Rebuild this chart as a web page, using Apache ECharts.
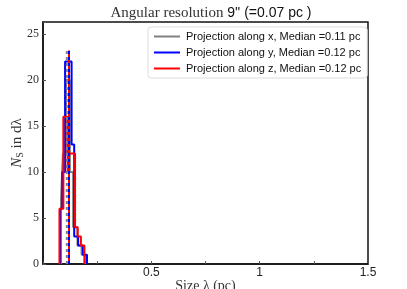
<!DOCTYPE html>
<html><head><meta charset="utf-8">
<script src="https://cdn.jsdelivr.net/npm/echarts@6/dist/echarts.min.js"></script>
<style>html,body{margin:0;padding:0;background:#fff}#c{width:407px;height:289px}</style>
</head><body><div id="c"></div>
<script>
// Histogram bin edges (pc) and counts per projection
const xEdges = [0.083, 0.092, 0.106, 0.124, 0.139, 0.159, 0.178, 0.194];
const xCounts = [7, 12, 20, 10, 4, 2, 1];
const yEdges = [0.079, 0.089, 0.102, 0.132, 0.144, 0.162, 0.184, 0.203];
const yCounts = [6, 10, 22, 13, 3, 2, 1];
const zEdges = [0.076, 0.094, 0.114, 0.121, 0.148, 0.160, 0.175, 0.191];
const zCounts = [6, 16, 10, 12, 4, 3, 2];
const medians = [0.11, 0.12, 0.12];
const medianLineTop = 23.2;
const names = ['Projection along x, Median =0.11 pc','Projection along y, Median =0.12 pc','Projection along z, Median =0.12 pc'];
const colors = ['#808080','#0000ff','#ff0000'];
const xTickLabels = [0.5, 1, 1.5];

function stepData(edges, counts){
  const d = [[edges[0], 0]];
  for (let i = 0; i < counts.length; i++) d.push([edges[i], counts[i]]);
  d.push([edges[edges.length-1], 0]);
  return d;
}
const hists = [[xEdges,xCounts],[yEdges,yCounts],[zEdges,zCounts]];
const series = [];
hists.forEach((h,i)=>{
  series.push({type:'line', name:names[i], step:'end', data:stepData(h[0],h[1]), symbol:'none',
    lineStyle:{color:colors[i], width:2}, itemStyle:{color:colors[i]}, z:2+i, animation:false});
});
medians.forEach((m,i)=>{
  series.push({type:'line', data:[[m,0],[m,medianLineTop]], symbol:'none', silent:true,
    lineStyle:{color:colors[i], width:2, type:[3,3], dashOffset: i===2?3:0}, z:10+i, animation:false});
});
const chart = echarts.init(document.getElementById('c'), null, {renderer:'canvas'});
chart.setOption({
  animation:false,
  title:{text:'{a|Angular resolution }{b|9\'\' (=0.07 pc )}', left:206, textAlign:'center', top:1,
    textStyle:{fontWeight:'normal', rich:{a:{fontFamily:'Liberation Serif', fontSize:15, color:'#333', fontWeight:'normal'}, b:{fontFamily:'Liberation Sans', fontSize:14, color:'#111', fontWeight:'normal'}}}},
  grid:{left:43, right:39, top:22, bottom:25, show:true, borderColor:'#111', borderWidth:1.5, backgroundColor:'#fff', outerBoundsMode:'none', containLabel:false},
  legend:{orient:'vertical', left:148, top:27, data:names, itemWidth:26, itemHeight:2, icon:'rect', itemGap:5,
    padding:[4,6,4,6], borderColor:'#ddd', borderWidth:1, borderRadius:3, backgroundColor:'#fff',
    textStyle:{fontFamily:'Liberation Sans', fontSize:11, color:'#111', padding:[0,0,0,1]}},
  xAxis:{type:'value', min:0, max:1.5, interval:0.25,
    name:'Size λ (pc)', nameLocation:'middle', nameGap:15, nameMoveOverlap:false,
    nameTextStyle:{fontFamily:'Liberation Serif', fontSize:14, color:'#333'},
    axisLine:{show:true, lineStyle:{color:'#111', width:1.5}},
    axisTick:{show:true, inside:true, length:3, lineStyle:{color:'#555'}},
    splitLine:{show:false},
    axisLabel:{fontFamily:'Liberation Sans', fontSize:12, color:'#222', margin:3,
      formatter:v=> xTickLabels.some(t=>Math.abs(t-v)<1e-6) ? String(v) : ''}},
  yAxis:{type:'value', min:0, max:26.3, interval:5,
    name:'{i|N}{s|S}{t| in dλ}', nameLocation:'middle', nameGap:18, nameRotate:90, nameMoveOverlap:false,
    nameTextStyle:{rich:{i:{fontFamily:'Liberation Serif', fontStyle:'italic', fontSize:15, color:'#333'},
      s:{fontFamily:'Liberation Serif', fontSize:10, color:'#333', padding:[6,0,0,0]},
      t:{fontFamily:'Liberation Serif', fontSize:15, color:'#333'}}},
    axisLine:{show:true, lineStyle:{color:'#111', width:1.5}},
    axisTick:{show:true, inside:true, length:3, lineStyle:{color:'#555'}},
    splitLine:{show:false},
    axisLabel:{fontFamily:'Liberation Serif', fontSize:12, color:'#333', margin:4,
      formatter:v=> (Math.abs(v%5)<1e-6) ? String(v) : ''}},
  series:series
});
</script></body></html>
